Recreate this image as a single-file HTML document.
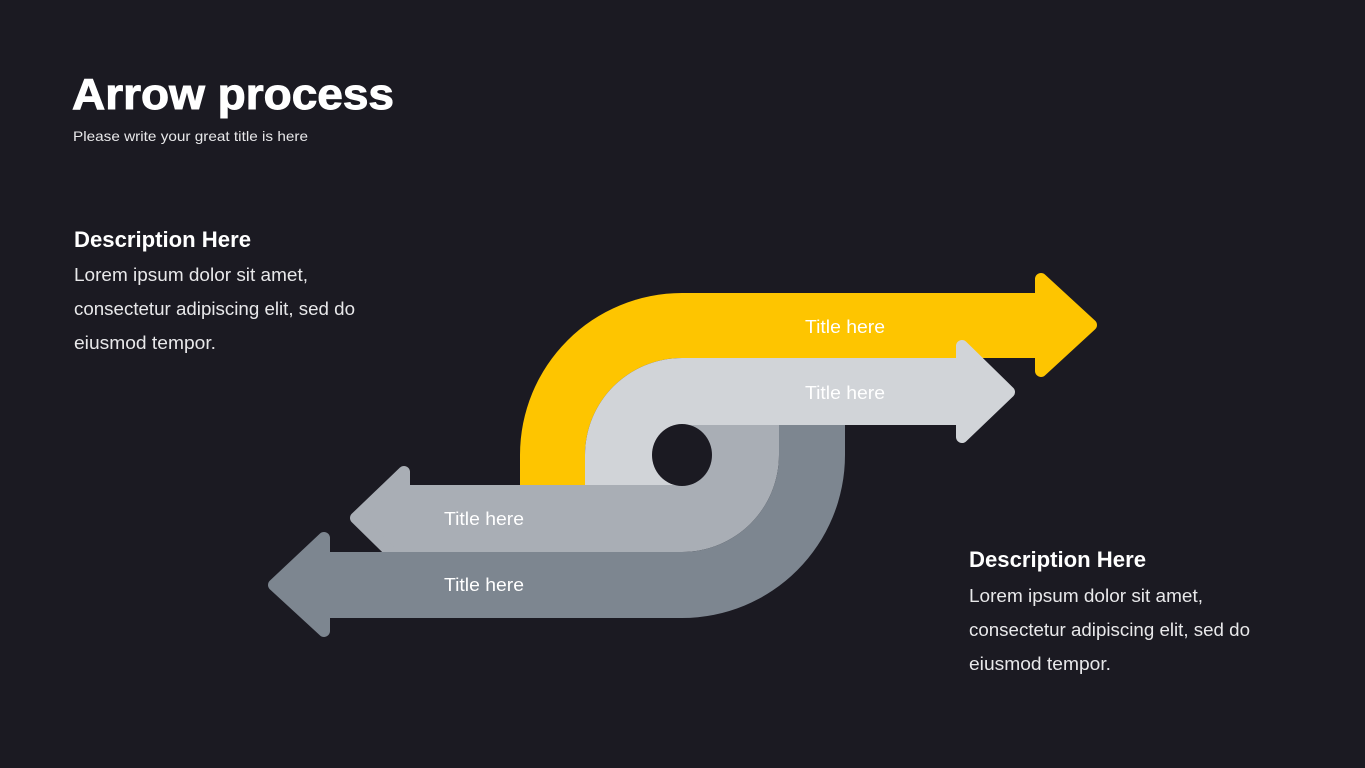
<!DOCTYPE html>
<html><head><meta charset="utf-8"><style>
html,body{margin:0;padding:0;background:#1b1a22;}
svg{display:block}
</style></head><body>
<svg width="1365" height="768" viewBox="0 0 1365 768" xmlns="http://www.w3.org/2000/svg">
<rect width="1365" height="768" fill="#1b1a22"/>
<text x="72" y="109" font-family="Liberation Sans, sans-serif" font-weight="bold" font-size="44" fill="#fff" stroke="#fff" stroke-width="1" textLength="322" lengthAdjust="spacingAndGlyphs">Arrow process</text>
<text x="73" y="141" font-family="Liberation Sans, sans-serif" font-size="14" fill="#e8e8ea" textLength="235" lengthAdjust="spacingAndGlyphs">Please write your great title is here</text>

<g font-family="Liberation Sans, sans-serif">
<text x="74" y="247" font-weight="bold" font-size="22" fill="#fff" textLength="177" lengthAdjust="spacingAndGlyphs">Description Here</text>
<text x="74" y="281" font-size="18" fill="#e8e8ea" textLength="234" lengthAdjust="spacingAndGlyphs">Lorem ipsum dolor sit amet,</text>
<text x="74" y="315" font-size="18" fill="#e8e8ea" textLength="281" lengthAdjust="spacingAndGlyphs">consectetur adipiscing elit, sed do</text>
<text x="74" y="349" font-size="18" fill="#e8e8ea" textLength="142" lengthAdjust="spacingAndGlyphs">eiusmod tempor.</text>

<text x="969" y="567" font-weight="bold" font-size="22" fill="#fff" textLength="177" lengthAdjust="spacingAndGlyphs">Description Here</text>
<text x="969" y="602" font-size="18" fill="#e8e8ea" textLength="234" lengthAdjust="spacingAndGlyphs">Lorem ipsum dolor sit amet,</text>
<text x="969" y="636" font-size="18" fill="#e8e8ea" textLength="281" lengthAdjust="spacingAndGlyphs">consectetur adipiscing elit, sed do</text>
<text x="969" y="670" font-size="18" fill="#e8e8ea" textLength="142" lengthAdjust="spacingAndGlyphs">eiusmod tempor.</text>
</g>

<!-- yellow -->
<path d="M520,485 V455 A162,162 0 0 1 682,293 H1042 V358 H682 A97,97 0 0 0 585,455 V485 Z" fill="#fec500"/>
<polygon points="1041,279 1091,325 1041,371" fill="#fec500" stroke="#fec500" stroke-width="12" stroke-linejoin="round"/>
<!-- light gray -->
<path d="M585,485 V455 A97,97 0 0 1 682,358 H962 V425 H682 A30,30 0 0 0 652,455 V485 Z" fill="#d1d4d8"/>
<rect x="652" y="425" width="31" height="60" fill="#d1d4d8"/>
<polygon points="962,346 1009,392 962,437" fill="#d1d4d8" stroke="#d1d4d8" stroke-width="12" stroke-linejoin="round"/>
<!-- mid gray -->
<path d="M712,425 H779 V455 A97,97 0 0 1 682,552 H402 V485 H682 A30,30 0 0 0 712,455 Z" fill="#a9aeb5"/>
<rect x="682" y="425" width="31" height="60" fill="#a9aeb5"/>
<polygon points="404,472 356,518 404,565" fill="#a9aeb5" stroke="#a9aeb5" stroke-width="12" stroke-linejoin="round"/>
<!-- dark gray -->
<path d="M779,425 H845 V455 A163,163 0 0 1 682,618 H322 V552 H682 A97,97 0 0 0 779,455 Z" fill="#7d8690"/>
<polygon points="324,538 274,585 324,631" fill="#7d8690" stroke="#7d8690" stroke-width="12" stroke-linejoin="round"/>
<!-- hole -->
<ellipse cx="682" cy="455" rx="30" ry="31" fill="#1b1a22"/>

<g font-family="Liberation Sans, sans-serif" font-size="18" fill="#fff">
<text x="805" y="333" textLength="80" lengthAdjust="spacingAndGlyphs">Title here</text>
<text x="805" y="399" textLength="80" lengthAdjust="spacingAndGlyphs">Title here</text>
<text x="444" y="525" textLength="80" lengthAdjust="spacingAndGlyphs">Title here</text>
<text x="444" y="591" textLength="80" lengthAdjust="spacingAndGlyphs">Title here</text>
</g>
</svg>
</body></html>
